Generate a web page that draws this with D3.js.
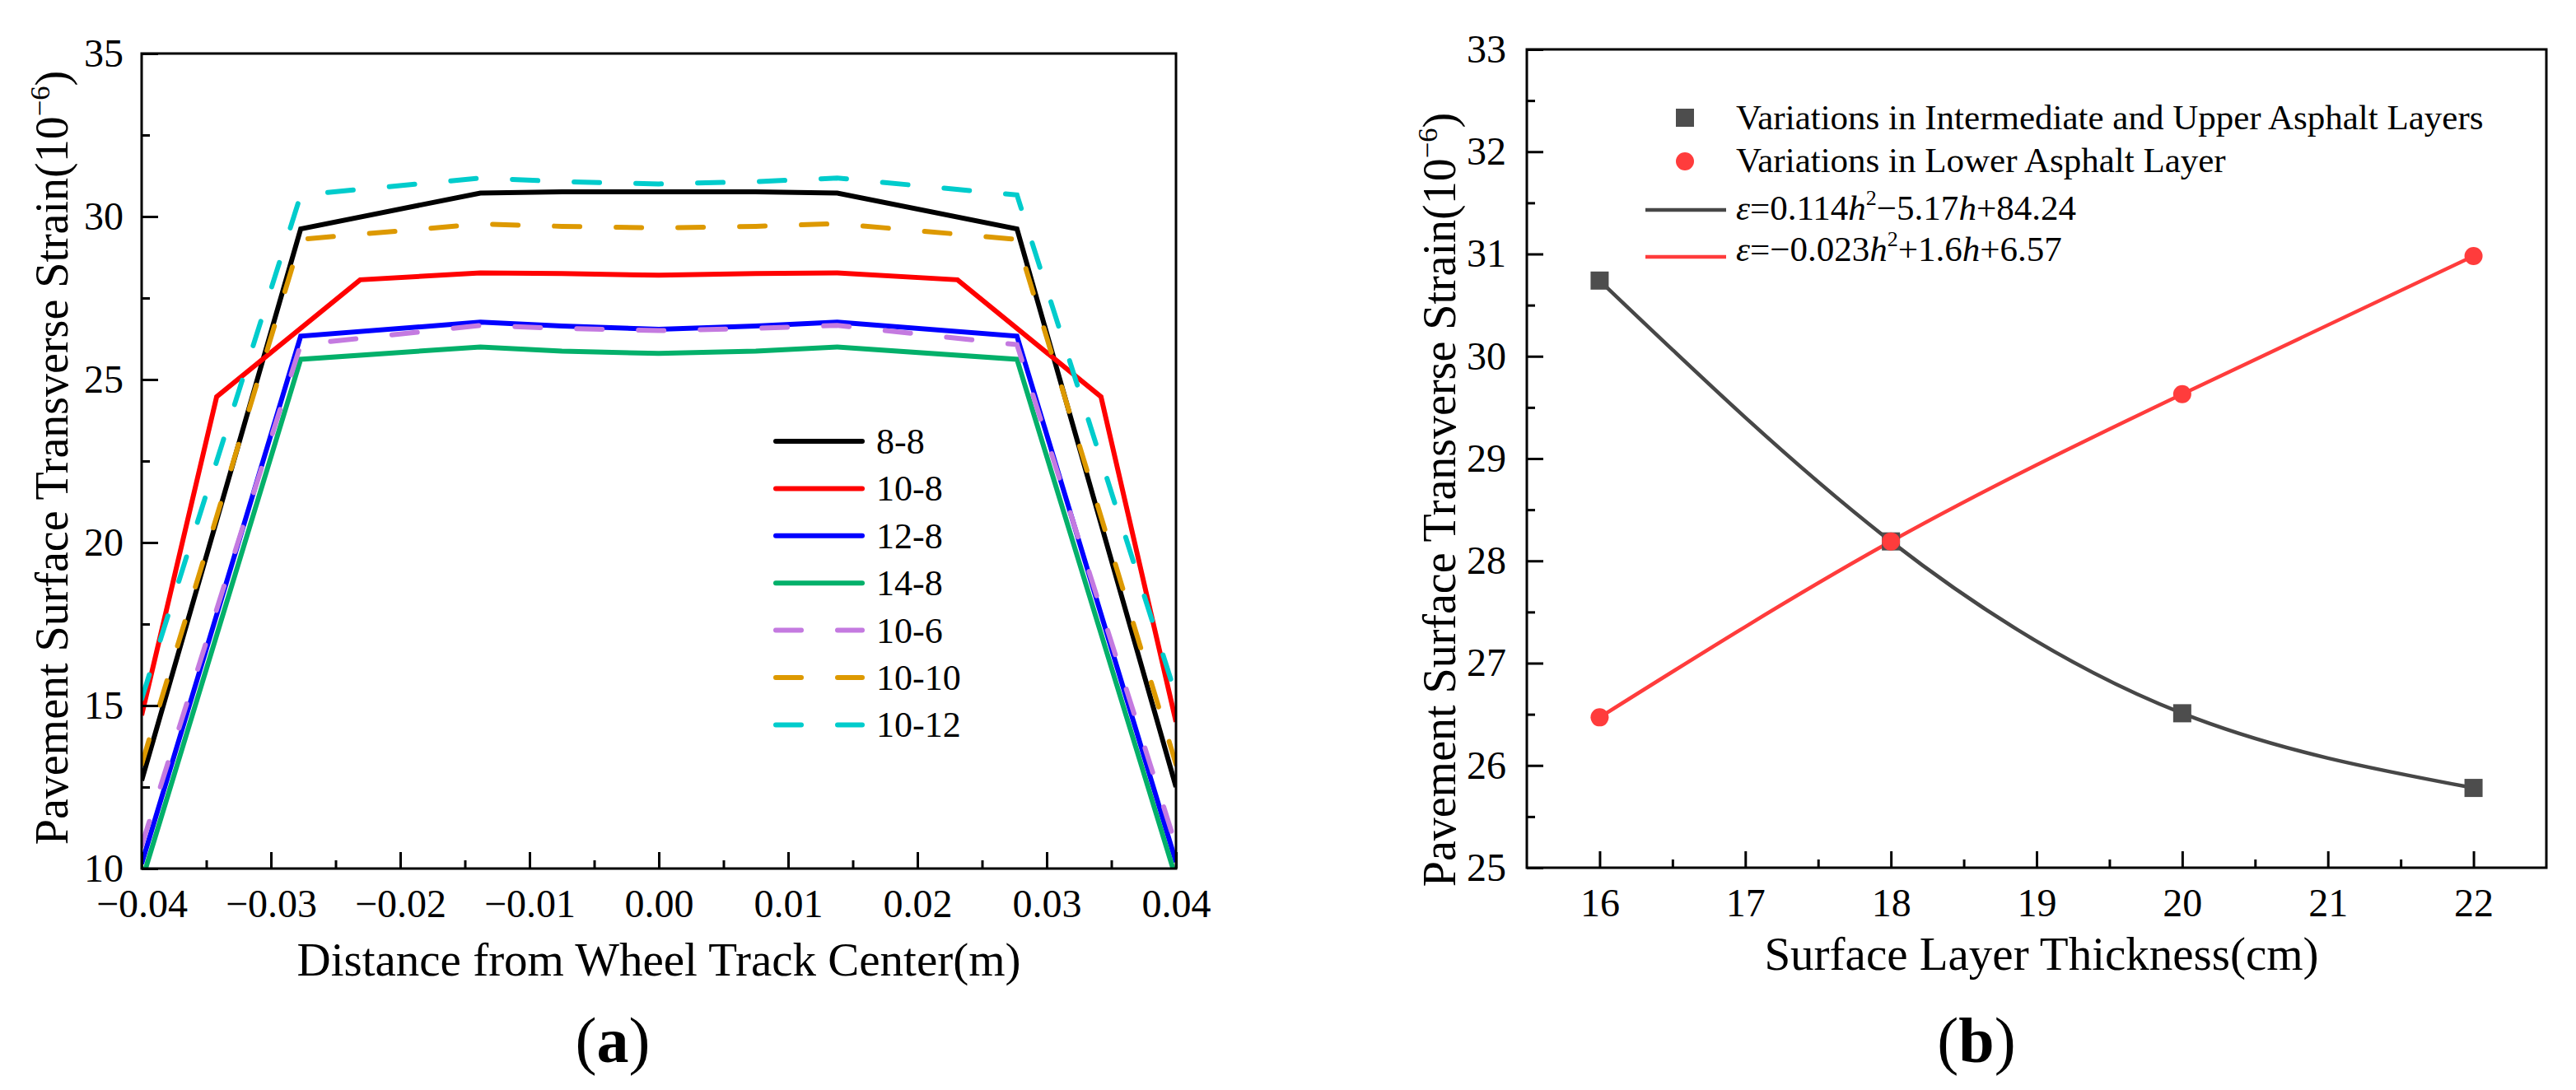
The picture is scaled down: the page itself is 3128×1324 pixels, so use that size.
<!DOCTYPE html>
<html>
<head>
<meta charset="utf-8">
<script src="https://cdn.jsdelivr.net/npm/d3@7"></script>
<style>
  body { margin: 0; background: #fff; }
  svg { display: block; }
  text { font-family: "Liberation Serif", "Times New Roman", serif; fill: #000; }
</style>
</head>
<body>
<svg id="fig" width="3128" height="1324"></svg>
<script>
// ---- panel (a) data: strain across the wheel track, null = no vertex there ----
var distX = [-0.04, -0.0342, -0.0277, -0.0231, -0.0138, -0.0075, 0, 0.0075, 0.0138, 0.0231, 0.0277, 0.0342, 0.04];
var s8_8   = [12.7, null, 29.62, null, 30.72, 30.76, 30.76, 30.76, 30.72, null, 29.62, null, 12.5];
var s10_8  = [14.7, 24.47, null, 28.06, 28.27, 28.25, 28.2, 28.25, 28.27, 28.06, null, 24.47, 14.5];
var s12_8  = [10.15, null, 26.33, null, 26.76, 26.64, 26.54, 26.64, 26.76, null, 26.33, null, 10.2];
var s14_8  = [9.6, null, 25.62, null, 26.0, 25.87, 25.8, 25.87, 26.0, null, 25.62, null, 9.7];
var s10_6  = [10.7, null, 26.07, null, 26.66, 26.57, 26.5, 26.57, 26.66, null, 26.07, null, 10.7];
var s10_10 = [13.2, null, 29.3, null, 29.77, 29.7, 29.65, 29.7, 29.78, null, 29.3, null, 13.2];
var s10_12 = [15.2, null, 30.66, null, 31.18, 31.07, 31.0, 31.07, 31.18, null, 30.66, null, 15.3];
var seriesNamesA = ["8-8", "10-8", "12-8", "14-8", "10-6", "10-10", "10-12"];
var seriesA = [s8_8, s10_8, s12_8, s14_8, s10_6, s10_10, s10_12];
var xTicksA = [-0.04, -0.03, -0.02, -0.01, 0, 0.01, 0.02, 0.03, 0.04];
var xMinorA = [-0.035, -0.025, -0.015, -0.005, 0.005, 0.015, 0.025, 0.035];
var yTicksA = [10, 15, 20, 25, 30, 35];
var yMinorA = [12.5, 17.5, 22.5, 27.5, 32.5];

// ---- panel (b) data ----
var thickness = [16, 18, 20, 22];
var strainUpper = [30.74, 28.19, 26.51, 25.78];
var strainLower = [26.47, 28.19, 29.63, 30.98];
var xTicksB = [16, 17, 18, 19, 20, 21, 22];
var xMinorB = [16.5, 17.5, 18.5, 19.5, 20.5, 21.5];
var yTicksB = [25, 26, 27, 28, 29, 30, 31, 32, 33];
var yMinorB = [25.5, 26.5, 27.5, 28.5, 29.5, 30.5, 31.5, 32.5];

// styles kept apart from the data
var colorsA = ["#000000", "#ff0000", "#0000ff", "#03b06a", "#c47ae0", "#dd9900", "#00cccc"];
var dashedA = [false, false, false, false, true, true, true];
var grayB = "#474747", redB = "#ff3c3c";

var svg = d3.select("#fig");

function frame(g, x0, y0, x1, y1) {
    g.append("rect")
        .attr("x", x0).attr("y", y0)
        .attr("width", x1 - x0).attr("height", y1 - y0)
        .attr("fill", "none").attr("stroke", "#000").attr("stroke-width", 3);
}

function styleAxis(g, fontSize) {
    g.select(".domain").remove();
    g.selectAll("line").attr("stroke", "#000").attr("stroke-width", 3);
    g.selectAll("text").attr("font-size", fontSize).attr("fill", "#000")
        .style("font-family", "'Liberation Serif', 'Times New Roman', serif");
}

function axes(x, y, xt, xm, yt, ym, xfmt, yfmt, padX, padY) {
    var h = y.range()[0], l = x.range()[0];
    var gx = svg.append("g").attr("transform", "translate(0," + h + ")")
        .call(d3.axisBottom(x).tickValues(xt).tickSize(-20).tickPadding(padX).tickFormat(xfmt));
    styleAxis(gx, 48);
    var gxm = svg.append("g").attr("transform", "translate(0," + h + ")")
        .call(d3.axisBottom(x).tickValues(xm).tickSize(-10).tickFormat(""));
    styleAxis(gxm, 48);
    var gy = svg.append("g").attr("transform", "translate(" + l + ",0)")
        .call(d3.axisLeft(y).tickValues(yt).tickSize(-20).tickPadding(padY).tickFormat(yfmt));
    styleAxis(gy, 48);
    var gym = svg.append("g").attr("transform", "translate(" + l + ",0)")
        .call(d3.axisLeft(y).tickValues(ym).tickSize(-10).tickFormat(""));
    styleAxis(gym, 48);
}

function yTitle(cx, cy, size) {
    var t = svg.append("text")
        .attr("transform", "translate(" + cx + "," + cy + ") rotate(-90)")
        .attr("text-anchor", "middle").attr("font-size", size);
    t.append("tspan").text("Pavement Surface Transverse Strain(10");
    t.append("tspan").attr("font-size", size * 0.62).attr("dy", -size * 0.4).text("\u22126");
    t.append("tspan").attr("font-size", size).attr("dy", size * 0.4).text(")");
}

/* ================= panel (a) ================= */
var xA = d3.scaleLinear().domain([-0.04, 0.04]).range([172, 1428]);
var yA = d3.scaleLinear().domain([10, 35]).range([1055, 65]);

svg.append("clipPath").attr("id", "clipA").append("rect")
    .attr("x", 172).attr("y", 65).attr("width", 1256).attr("height", 990);

var lineA = d3.line().x(function (d) { return xA(d[0]); }).y(function (d) { return yA(d[1]); });
var gA = svg.append("g").attr("clip-path", "url(#clipA)");

seriesA.forEach(function (vals, i) {
    var pts = distX.map(function (x, j) { return [x, vals[j]]; })
        .filter(function (p) { return p[1] != null; });
    var p = gA.append("path").attr("d", lineA(pts))
        .attr("fill", "none").attr("stroke", colorsA[i]).attr("stroke-width", 6)
        .attr("stroke-linejoin", "miter");
    if (dashedA[i]) p.attr("stroke-dasharray", "31,44").attr("stroke-linecap", "round");
});

axes(xA, yA, xTicksA, xMinorA, yTicksA, yMinorA, d3.format(".2f"), d3.format("d"), 25, 22);
frame(svg, 172, 65, 1428, 1055);

// legend (a)
seriesNamesA.forEach(function (name, i) {
    var ly = 536 + i * 57.4;
    var l = svg.append("line").attr("x1", 942).attr("x2", 1047).attr("y1", ly).attr("y2", ly)
        .attr("stroke", colorsA[i]).attr("stroke-width", 6).attr("stroke-linecap", "round");
    if (dashedA[i]) l.attr("stroke-dasharray", "31,44");
    svg.append("text").attr("x", 1064).attr("y", ly + 15).attr("font-size", 44).text(name);
});

svg.append("text").attr("x", 800).attr("y", 1185).attr("text-anchor", "middle")
    .attr("font-size", 57).text("Distance from Wheel Track Center(m)");
yTitle(82, 556, 56);

var capA = svg.append("text").attr("x", 744).attr("y", 1290).attr("text-anchor", "middle").attr("font-size", 78);
capA.append("tspan").text("(");
capA.append("tspan").attr("font-weight", "bold").text("a");
capA.append("tspan").text(")");

/* ================= panel (b) ================= */
var xB = d3.scaleLinear().domain([15.5, 22.5]).range([1854, 3092]);
var yB = d3.scaleLinear().domain([25, 33]).range([1054, 60]);

var lineB = d3.line().curve(d3.curveNatural)
    .x(function (d) { return xB(d[0]); }).y(function (d) { return yB(d[1]); });

var upperPts = thickness.map(function (t, i) { return [t, strainUpper[i]]; });
var lowerPts = thickness.map(function (t, i) { return [t, strainLower[i]]; });

svg.append("path").attr("d", lineB(upperPts)).attr("fill", "none")
    .attr("stroke", grayB).attr("stroke-width", 4.5);
svg.append("path").attr("d", lineB(lowerPts)).attr("fill", "none")
    .attr("stroke", redB).attr("stroke-width", 4.5);

svg.selectAll("rect.sq").data(upperPts).enter().append("rect").attr("class", "sq")
    .attr("x", function (d) { return xB(d[0]) - 11; })
    .attr("y", function (d) { return yB(d[1]) - 11; })
    .attr("width", 22).attr("height", 22).attr("fill", "#4d4d4d");
svg.selectAll("circle.dot").data(lowerPts).enter().append("circle").attr("class", "dot")
    .attr("cx", function (d) { return xB(d[0]); })
    .attr("cy", function (d) { return yB(d[1]); })
    .attr("r", 11).attr("fill", redB);

axes(xB, yB, xTicksB, xMinorB, yTicksB, yMinorB, d3.format("d"), d3.format("d"), 25, 25);
frame(svg, 1854, 60, 3092, 1054);

// legend (b)
svg.append("rect").attr("x", 2035).attr("y", 132).attr("width", 22).attr("height", 22).attr("fill", "#4d4d4d");
svg.append("circle").attr("cx", 2046).attr("cy", 196).attr("r", 11).attr("fill", redB);
svg.append("line").attr("x1", 1998).attr("x2", 2096).attr("y1", 255).attr("y2", 255)
    .attr("stroke", grayB).attr("stroke-width", 4.5);
svg.append("line").attr("x1", 1998).attr("x2", 2096).attr("y1", 312).attr("y2", 312)
    .attr("stroke", redB).attr("stroke-width", 4.5);
svg.append("text").attr("x", 2108).attr("y", 157).attr("font-size", 43)
    .text("Variations in Intermediate and Upper Asphalt Layers");
svg.append("text").attr("x", 2108).attr("y", 209).attr("font-size", 43)
    .text("Variations in Lower Asphalt Layer");

function equation(y, parts) {
    var t = svg.append("text").attr("x", 2108).attr("y", y).attr("font-size", 43);
    parts.forEach(function (p) {
        var s = t.append("tspan").text(p[0]);
        if (p[1] == "i") s.attr("font-style", "italic");
        if (p[1] == "sup") s.attr("font-size", 26).attr("dy", -18);
        if (p[1] == "down") s.attr("dy", 18);
    });
}
equation(267, [["\u03b5", "i"], ["=0.114", ""], ["h", "i"], ["2", "sup"], ["\u22125.17", "down"], ["h", "i"], ["+84.24", ""]]);
equation(317, [["\u03b5", "i"], ["=\u22120.023", ""], ["h", "i"], ["2", "sup"], ["+1.6", "down"], ["h", "i"], ["+6.57", ""]]);

svg.append("text").attr("x", 2479).attr("y", 1178).attr("text-anchor", "middle")
    .attr("font-size", 57).text("Surface Layer Thickness(cm)");
yTitle(1767, 607, 56);

var capB = svg.append("text").attr("x", 2400).attr("y", 1290).attr("text-anchor", "middle").attr("font-size", 78);
capB.append("tspan").text("(");
capB.append("tspan").attr("font-weight", "bold").text("b");
capB.append("tspan").text(")");
</script>
</body>
</html>
